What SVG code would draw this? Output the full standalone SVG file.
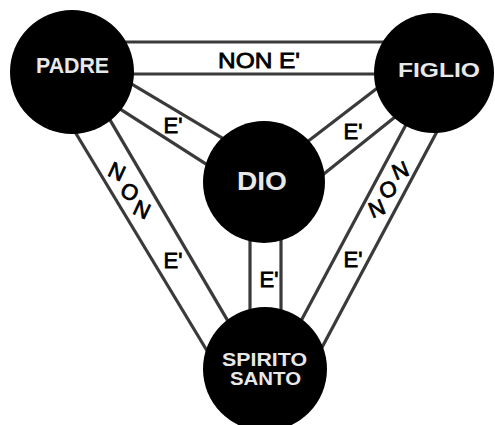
<svg xmlns="http://www.w3.org/2000/svg" width="495" height="425" viewBox="0 0 495 425">
<style>
.band{stroke:#3a3a3a;stroke-width:3.2;fill:none;stroke-linecap:butt}
.node{fill:#000}
.nl{font-family:"Liberation Sans","DejaVu Sans",Arial,sans-serif;font-weight:bold;fill:#e8e8e8;text-anchor:middle}
.el{font-family:"Liberation Sans","DejaVu Sans",Arial,sans-serif;font-size:22px;fill:#000;stroke:#000;stroke-width:0.8;text-anchor:middle}
</style>
<rect width="495" height="425" fill="#fff"/>
<g id="connectors">
  <line class="band" x1="120" y1="42" x2="390" y2="42"/>
  <line class="band" x1="120" y1="74" x2="390" y2="74"/>
  <line class="band" x1="115" y1="74.2" x2="240" y2="148.6"/>
  <line class="band" x1="105" y1="99.3" x2="230" y2="179.3"/>
  <line class="band" x1="60" y1="107" x2="215" y2="364"/>
  <line class="band" x1="95" y1="94.4" x2="240" y2="341.6"/>
  <line class="band" x1="395" y1="74.5" x2="295" y2="151.3"/>
  <line class="band" x1="410" y1="105" x2="310" y2="185"/>
  <line class="band" x1="420" y1="98.4" x2="290" y2="341.5"/>
  <line class="band" x1="445" y1="116.4" x2="315" y2="360.4"/>
  <line class="band" x1="250" y1="200" x2="250" y2="350"/>
  <line class="band" x1="281" y1="200" x2="281" y2="350"/>
  <text class="el" x="259" y="68" font-size="21" textLength="82" lengthAdjust="spacingAndGlyphs">NON E'</text>
  <text class="el" x="173" y="133">E'</text>
  <text class="el" x="353" y="138.5">E'</text>
  <text class="el" x="269" y="287">E'</text>
  <text class="el" x="173" y="268">E'</text>
  <text class="el" x="353" y="267">E'</text>
  <text class="el" transform="translate(117,171) rotate(25)" y="8">N</text>
  <text class="el" transform="translate(130,191.5) rotate(25)" y="8">O</text>
  <text class="el" transform="translate(142,209) rotate(25)" y="8">N</text>
  <text class="el" transform="translate(400,170) rotate(-22)" y="8">N</text>
  <text class="el" transform="translate(388,189) rotate(-22)" y="8">O</text>
  <text class="el" transform="translate(376.5,208) rotate(-22)" y="8">N</text>
</g>
<g id="padre">
  <circle class="node" cx="72" cy="72" r="62"/>
  <text class="nl" x="72.5" y="73.3" font-size="22" textLength="73" lengthAdjust="spacingAndGlyphs">PADRE</text>
</g>
<g id="figlio">
  <circle class="node" cx="434" cy="73" r="60"/>
  <text class="nl" x="439" y="77" font-size="21" textLength="82" lengthAdjust="spacingAndGlyphs">FIGLIO</text>
</g>
<g id="dio">
  <circle class="node" cx="264" cy="182" r="61"/>
  <text class="nl" x="262" y="190" font-size="26" textLength="50" lengthAdjust="spacingAndGlyphs">DIO</text>
</g>
<g id="spirito-santo">
  <circle class="node" cx="265" cy="369" r="62"/>
  <text class="nl" x="264.5" y="365.5" font-size="18" textLength="85" lengthAdjust="spacingAndGlyphs">SPIRITO</text>
  <text class="nl" x="265.5" y="385" font-size="18" textLength="71" lengthAdjust="spacingAndGlyphs">SANTO</text>
</g>
</svg>
